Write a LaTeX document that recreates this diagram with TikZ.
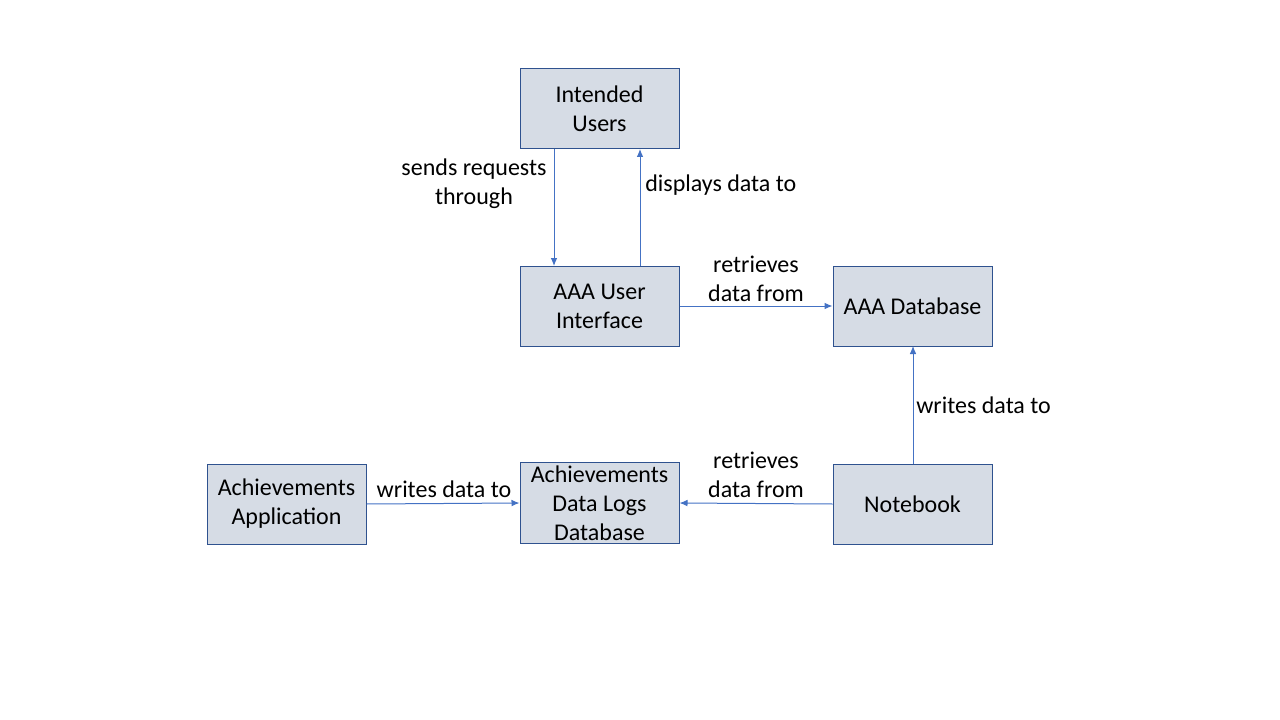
\documentclass[tikz,border=0pt]{standalone}
\usepackage{fontspec}
\setmainfont{Carlito}
\usetikzlibrary{arrows.meta}
\definecolor{boxfill}{HTML}{D6DCE5}
\definecolor{boxline}{HTML}{2F528F}
\definecolor{arrowc}{HTML}{4472C4}
\begin{document}
\begin{tikzpicture}[x=0.75pt,y=-0.75pt,
  every node/.style={font=\fontsize{18}{21.75}\selectfont, text=black},
  blockbox/.style={draw=boxline, fill=boxfill, line width=0.75pt, minimum width=119.25pt, minimum height=60pt, inner sep=2pt, align=center},
  conn/.style={draw=arrowc, line width=0.75pt, -{Latex[length=6pt,width=5pt]}},
  lbl/.style={align=center, inner sep=0pt}
]
\useasboundingbox (0,0) rectangle (1280,720);
\node[blockbox] (users) at (599.5,109) {Intended\\Users};
\node[blockbox] (ui) at (599.5,306) {AAA User\\Interface};
\node[blockbox] (aaadb) at (912.5,306) {AAA Database};
\node[blockbox] (app) at (286.5,504) {Achievements\\Application};
\node[blockbox] (adl) at (599.5,503) {Achievements\\Data Logs\\Database};
\node[blockbox] (nb) at (912.5,504) {Notebook};

\coordinate (u1) at (554,149);
\coordinate (i1) at (554,266);
\coordinate (u2) at (640,149);
\coordinate (i2) at (640,266);
\draw[conn] (u1) -- (i1);
\draw[conn] (i2) -- (u2);
\draw[conn] (ui.east) -- (aaadb.west);
\coordinate (n1) at (913,464);
\coordinate (d1) at (913,346);
\draw[conn] (n1) -- (d1);
\draw[conn] (nb.west) -- (adl.east);
\draw[conn] (app.east) -- (adl.west);

\node[lbl] (l1) at (474,184) {sends requests\\through};
\node[lbl, anchor=west] (l2) at (645,185) {displays data to};
\node[lbl] (l3) at (756,279) {retrieves\\data from};
\node[lbl, anchor=west] (l4) at (916,405) {writes data to};
\node[lbl] (l5) at (756,475) {retrieves\\data from};
\node[lbl] (l6) at (444,489) {writes data to};
\end{tikzpicture}
\end{document}
